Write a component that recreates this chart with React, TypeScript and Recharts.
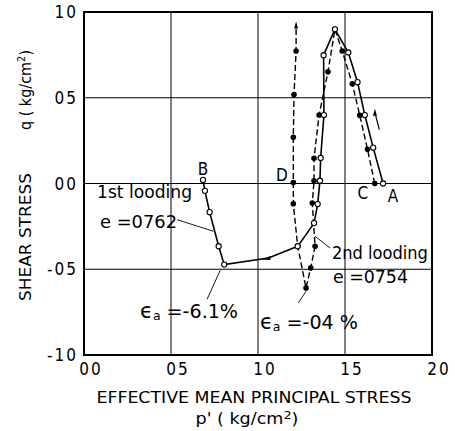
import React from 'react'
import {
  ScatterChart,
  Scatter,
  XAxis,
  YAxis,
  CartesianGrid,
  ReferenceLine,
  ReferenceDot,
  ReferenceArea,
} from 'recharts'

// page is photographed at 455x431, drop the default body margin so the chart fills it
if (typeof document !== 'undefined') {
  document.body.style.margin = '0'
}

const FONT = '"DejaVu Sans Condensed", "Liberation Sans Narrow", "DejaVu Sans", sans-serif'

// p' (kg/cm2) and q (kg/cm2); m = measured point (drawn with a circle)
const firstLoading = [
  { p: 1.719, q: 0.0, m: true },
  { p: 1.662, q: 0.209, m: true },
  { p: 1.614, q: 0.399, m: true },
  { p: 1.572, q: 0.591, m: true },
  { p: 1.519, q: 0.764, m: true },
  { p: 1.442, q: 0.899, m: true },
  { p: 1.377, q: 0.748, m: true },
  { p: 1.379, q: 0.399, m: true },
  { p: 1.36, q: 0.149, m: true },
  { p: 1.356, q: 0.016, m: true },
  { p: 1.343, q: -0.12, m: true },
  { p: 1.322, q: -0.231, m: true },
  { p: 1.27, q: -0.307, m: false },
  { p: 1.228, q: -0.366, m: true },
  { p: 1.06, q: -0.434, m: false },
  { p: 0.806, q: -0.473, m: true },
  { p: 0.774, q: -0.366, m: true },
  { p: 0.722, q: -0.167, m: true },
  { p: 0.695, q: -0.043, m: true },
  { p: 0.684, q: 0.021, m: true },
]

const secondLoading = [
  { p: 1.671, q: 0.0, m: true },
  { p: 1.629, q: 0.2, m: true },
  { p: 1.585, q: 0.397, m: true },
  { p: 1.542, q: 0.581, m: true },
  { p: 1.484, q: 0.773, m: true },
  { p: 1.442, q: 0.899, m: true },
  { p: 1.402, q: 0.651, m: true },
  { p: 1.351, q: 0.399, m: true },
  { p: 1.322, q: 0.147, m: true },
  { p: 1.322, q: 0.016, m: true },
  { p: 1.312, q: -0.114, m: true },
  { p: 1.328, q: -0.366, m: true },
  { p: 1.303, q: -0.492, m: true },
  { p: 1.276, q: -0.609, m: true },
  { p: 1.228, q: -0.366, m: true },
  { p: 1.203, q: -0.118, m: true },
  { p: 1.203, q: 0.006, m: true },
  { p: 1.203, q: 0.269, m: true },
  { p: 1.207, q: 0.519, m: true },
  { p: 1.219, q: 0.773, m: true },
  { p: 1.219, q: 0.922, m: false },
]

const xTicks = [0, 0.5, 1.0, 1.5, 2.0]
const xTickLabels = ['00', '05', '10', '15', '20']
const yTicks = [-1.0, -0.5, 0, 0.5, 1.0]
const yTickLabels = ['-10', '-05', '00', '05', '10']

// text notes: anchor (start of text baseline) in data units
const notes = [
  { p: 0.075, q: -0.087, text: '1st looding', w: 95 },
  { p: 0.092, q: -0.262, text: 'e =0762', w: 77 },
  { p: 1.425, q: -0.443, text: '2nd looding', w: 96 },
  { p: 1.431, q: -0.583, text: 'e =0754', w: 75 },
]
const strainNotes = [
  { p: 0.322, q: -0.787, value: '=-6.1%' },
  { p: 1.011, q: -0.851, value: '=-04 %' },
]
const pointLetters = [
  { p: 0.684, q: 0.052, text: 'B' },
  { p: 1.138, q: 0.012, text: 'D' },
  { p: 1.603, q: -0.093, text: 'C' },
  { p: 1.776, q: -0.105, text: 'A' },
]
const leaders = [
  [{ x: 0.535, y: -0.211 }, { x: 0.745, y: -0.279 }],
  [{ x: 1.414, y: -0.376 }, { x: 1.328, y: -0.308 }],
  [{ x: 0.707, y: -0.676 }, { x: 0.783, y: -0.506 }],
  [{ x: 1.232, y: -0.696 }, { x: 1.276, y: -0.628 }],
]
const dashedTail = { p: 1.219, q: 0.922 }
const curveArrow = { p: 1.06, q: -0.434 }
const sideArrow = [{ x: 1.697, y: 0.314 }, { x: 1.672, y: 0.413 }]

const openDot = (props: any) => {
  const { cx, cy, payload } = props
  if (!payload || !payload.m) return <g />
  return <circle cx={cx} cy={cy} r={2.6} fill="#fff" stroke="#000" strokeWidth={1.1} />
}

const filledDot = (props: any) => {
  const { cx, cy, payload } = props
  if (!payload || !payload.m) return <g />
  return <circle cx={cx} cy={cy} r={2.8} fill="#000" />
}

const upHead = (props: any) => {
  const { cx, cy } = props
  return <polygon points={`${cx},${cy - 4} ${cx - 2},${cy + 3} ${cx + 2},${cy + 3}`} fill="#000" />
}

const leftHead = (props: any) => {
  const { cx, cy } = props
  return <polygon points={`${cx - 7},${cy + 1.5} ${cx + 2},${cy - 2} ${cx + 2},${cy + 2}`} fill="#000" />
}

const YTick = (props: any) => {
  const { x, y, payload } = props
  const i = yTicks.indexOf(payload.value)
  return (
    <text x={x + 2} y={y + 6} textAnchor="end" fontFamily={FONT} fontStretch="condensed" fontSize={17} letterSpacing={2} fill="#000">
      {yTickLabels[i]}
    </text>
  )
}

const XTick = (props: any) => {
  const { x, y, payload } = props
  const i = xTicks.indexOf(payload.value)
  return (
    <text x={x + 7} y={y + 12} textAnchor="middle" fontFamily={FONT} fontStretch="condensed" fontSize={17} letterSpacing={2} fill="#000">
      {xTickLabels[i]}
    </text>
  )
}

const YTitle = () => (
  <g fontFamily={FONT} fontStretch="condensed" fontSize={16} fill="#000">
    <text x={31} y={237} transform="rotate(-90 31 237)" textAnchor="middle" textLength={128} lengthAdjust="spacingAndGlyphs">
      SHEAR STRESS
    </text>
    <text x={31} y={90} transform="rotate(-90 31 90)" textAnchor="middle" textLength={80} lengthAdjust="spacingAndGlyphs">
      q ( kg/cm<tspan dy={-6} fontSize={11}>2</tspan><tspan dy={6}>)</tspan>
    </text>
  </g>
)

const XTitle = () => (
  <g fontFamily={FONT} fontStretch="condensed" fill="#000">
    <text x={254} y={403} fontSize={16} textAnchor="middle" textLength={315} lengthAdjust="spacingAndGlyphs">
      EFFECTIVE MEAN PRINCIPAL STRESS
    </text>
    <text x={247} y={424} fontSize={15} textAnchor="middle" textLength={103} lengthAdjust="spacingAndGlyphs">
      p' ( kg/cm<tspan dy={-5} fontSize={11}>2</tspan><tspan dy={5}>)</tspan>
    </text>
  </g>
)

export default function App() {
  return (
    <div style={{ width: 455, height: 431, background: '#fff' }}>
      <ScatterChart width={455} height={431} margin={{ top: 12, right: 23, left: 0, bottom: 0 }}>
        <CartesianGrid stroke="#000" strokeWidth={1} horizontalValues={yTicks} verticalValues={xTicks} />
        <XAxis
          type="number"
          dataKey="p"
          domain={[0, 2]}
          ticks={xTicks}
          tick={<XTick />}
          tickLine={false}
          axisLine={false}
          height={76}
          label={<XTitle />}
        />
        <YAxis
          type="number"
          dataKey="q"
          domain={[-1, 1]}
          ticks={yTicks}
          tick={<YTick />}
          tickLine={false}
          axisLine={false}
          width={84}
          label={<YTitle />}
        />
        <ReferenceArea x1={0} x2={2} y1={-1} y2={1} fill="none" stroke="#000" strokeWidth={2} fillOpacity={0} />
        {leaders.map((seg, i) => (
          <ReferenceLine key={`ld-${i}`} segment={seg} stroke="#000" strokeWidth={0.9} />
        ))}
        <ReferenceLine segment={sideArrow} stroke="#000" strokeWidth={1.2} />
        <Scatter
          data={secondLoading}
          fill="#000"
          line={{ stroke: '#000', strokeWidth: 1.4, strokeDasharray: '6 3' }}
          lineType="joint"
          shape={filledDot}
          isAnimationActive={false}
        />
        <Scatter
          data={firstLoading}
          fill="#000"
          line={{ stroke: '#000', strokeWidth: 1.6 }}
          lineType="joint"
          shape={openDot}
          isAnimationActive={false}
        />
        <ReferenceDot x={dashedTail.p} y={dashedTail.q} shape={upHead} />
        <ReferenceDot x={sideArrow[1].x} y={sideArrow[1].y} shape={upHead} />
        <ReferenceDot x={curveArrow.p} y={curveArrow.q} shape={leftHead} />
        {notes.map((n, i) => (
          <ReferenceDot
            key={`nt-${i}`}
            x={n.p}
            y={n.q}
            shape={(props: any) => (
              <text x={props.cx} y={props.cy} fontFamily={FONT} fontStretch="condensed" fontSize={18} fill="#000" textLength={n.w} lengthAdjust="spacingAndGlyphs">
                {n.text}
              </text>
            )}
          />
        ))}
        {strainNotes.map((n, i) => (
          <ReferenceDot
            key={`sn-${i}`}
            x={n.p}
            y={n.q}
            shape={(props: any) => (
              <text x={props.cx} y={props.cy} fontFamily={FONT} fontStretch="condensed" fontSize={20} fill="#000" textLength={98} lengthAdjust="spacingAndGlyphs">
                <tspan fontSize={22}>ϵ</tspan>
                <tspan fontSize={13} dy={2}>a</tspan>
                <tspan dy={-2}> {n.value}</tspan>
              </text>
            )}
          />
        ))}
        {pointLetters.map((n, i) => (
          <ReferenceDot
            key={`pl-${i}`}
            x={n.p}
            y={n.q}
            shape={(props: any) => (
              <text x={props.cx} y={props.cy} textAnchor="middle" fontFamily={FONT} fontStretch="condensed" fontSize={17} fill="#000">
                {n.text}
              </text>
            )}
          />
        ))}
      </ScatterChart>
    </div>
  )
}
